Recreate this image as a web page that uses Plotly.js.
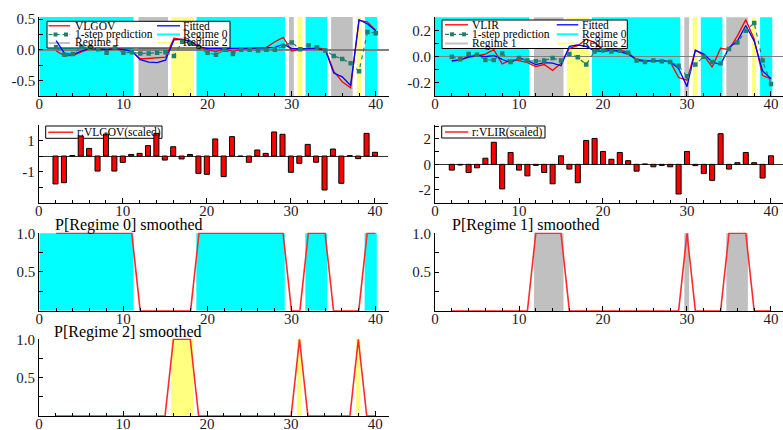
<!DOCTYPE html>
<html><head><meta charset="utf-8">
<script src="https://cdn.plot.ly/plotly-3.0.1.min.js"></script>
<style>html,body{margin:0;padding:0;background:#fff}#chart{width:783px;height:430px}</style>
</head><body><div id="chart"></div>
<script>
// ---------------- DATA ----------------
const t = [2,3,4,5,6,7,8,9,10,11,12,13,14,15,16,17,18,19,20,21,22,23,24,25,26,27,28,29,30,31,32,33,34,35,36,37,38,39,40];

const vlgov       = [-0.02,-0.10,-0.09,-0.03,0.02,0.02,0.00,0.03,0.00,-0.02, -0.15,-0.14,-0.12,-0.12,0.19,0.17,0.12, 0.04,0.00,-0.03,0.02,-0.03,0.01,0.02,0.02,0.04,0.13,0.20, -0.02,0.01,0.02,0.03,0.01,-0.35,-0.52,-0.62,0.48,0.45,0.31];
const vlgovFitted = [0.15,-0.06,-0.08,-0.02,0.02,0.01,0.00,0.02,0.00,-0.02, -0.16,-0.20,-0.21,-0.17,0.16,0.17,0.14, 0.05,0.02,0.02,0.02,0.02,0.02,0.02,0.02,0.03,0.04,0.09, 0.02,0.02,0.02,0.02,-0.01,-0.38,-0.44,-0.58,0.49,0.42,0.31];
const vlgovPred   = [0.04,-0.08,-0.07,0.05,0.03,0.01,-0.05,0.04,-0.05,-0.04, -0.06,-0.06,-0.05,-0.04,-0.10,0.13,0.10, 0.03,-0.05,-0.08,0.00,-0.07,0.00,0.00,-0.01,0.00,0.00,0.06, 0.12,0.01,0.07,0.04,-0.01,-0.10,-0.15,-0.22,-0.35,0.29,0.27];

const vlir        = [-0.035,-0.025,-0.005,0.01,0.02,0.055,-0.055,-0.025,-0.03,-0.045, -0.075,-0.06,-0.105,-0.05,0.065,0.085,0.135, 0.11,0.06,0.05,0.05,0.035,-0.03,-0.035,-0.03,-0.03,-0.04,-0.16, -0.18,0.05,0.01,-0.08,0.065,0.055,0.16,0.285,0.135,-0.145,-0.17];
const vlirFitted  = [-0.03,-0.025,0.0,0.01,0.0,0.01,-0.02,-0.045,-0.01,-0.03, -0.06,-0.045,-0.05,-0.07,0.08,0.09,0.08, 0.045,0.04,0.05,0.04,0.02,-0.02,-0.03,-0.03,-0.03,-0.04,-0.09, -0.23,0.05,0.02,-0.04,-0.06,0.07,0.12,0.24,0.12,-0.11,-0.17];
const vlirPred    = [0.0,-0.02,0.02,0.015,-0.025,-0.025,0.025,-0.04,-0.01,-0.03, -0.035,-0.03,-0.01,-0.03,0.02,-0.005,-0.06, 0.04,0.05,0.04,0.045,0.03,-0.03,-0.04,-0.03,-0.035,-0.04,-0.07, -0.15,-0.06,0.0,-0.04,-0.05,0.06,0.11,0.20,0.26,-0.03,-0.21];

const resVLGOV = [-1.8,-1.72,0.03,1.29,0.49,-0.97,1.42,-0.97,-0.41,0.1, 0.17,0.67,1.46,-0.26,0.6,-0.19,0.1, -1.12,-1.18,1.1,-1.33,1.25,-0.02,-0.4,0.39,0.17,1.55,1.4, -1.05,-0.47,0.75,-0.4,-2.19,0.45,-1.76,0.02,-0.17,1.46,0.24];
const resVLIR  = [-0.45,-0.05,-0.64,-0.27,0.48,1.73,-1.92,0.93,-0.45,-0.9, -0.08,-0.64,-1.52,0.67,-0.37,-1.44,1.87, 2.03,1.01,0.4,0.93,0.29,-0.53,0.03,-0.19,-0.08,-0.19,-2.32, 1.01,-0.1,-0.72,-1.25,2.4,-0.37,0.13,0.93,0.13,-1.07,0.67];

const pRegime0 = [1,1,1,1,1,1,1,1,1,1, 0,0,0,0,0,0,0, 1,1,1,1,1,1,1,1,1,1,1, 0,0,1,1,1,0,0,0,0,1,1];
const pRegime1 = [0,0,0,0,0,0,0,0,0,0, 1,1,1,1,0,0,0, 0,0,0,0,0,0,0,0,0,0,0, 1,0,0,0,0,1,1,1,0,0,0];
const pRegime2 = [0,0,0,0,0,0,0,0,0,0, 0,0,0,0,1,1,1, 0,0,0,0,0,0,0,0,0,0,0, 0,1,0,0,0,0,0,0,1,0,0];

// regime shading intervals (as drawn)
const regimeStart = [0, 11.78, 15.7, 18.68, 29.68, 30.68, 31.65, 34.68, 37.74, 38.7];
const regimeEnd   = [11.2, 15.3, 18.38, 29.2, 30.25, 31.26, 34.22, 37.25, 38.24, 40.15];
const regimeId    = [0, 1, 2, 0, 1, 2, 0, 1, 2, 0];
const regimeNames = ['Regime 0', 'Regime 1', 'Regime 2'];

const xTickVals = [0, 10, 20, 30, 40];

// ---------------- STYLE / LAYOUT ----------------
const W = 783, H = 430;
const FONT = 'Liberation Serif, Times New Roman, serif';
const TICKC = '#1a1a2e';
const regimeColors = ['#00FFFF', '#C0C0C0', '#FFFF80'];
const RED = '#FF0000', BLUE = '#0000FF', TEAL = '#1F8070', PRED = '#FF2A2A';

const panels = [
  {px:[39.3,389], xr:[0,41.56], py:[17,96],      yr:[-0.752,0.533], tv:[-0.5,-0.25,0,0.25,0.5], tt:['-0.5','','0.0','','0.5'], zl:'#808080', zw:1.5},
  {px:[435,783],  xr:[0,41.43], py:[17.3,96],    yr:[-0.302,0.303], tv:[-0.2,-0.1,0,0.1,0.2],   tt:['-0.2','','0.0','','0.2'], zl:'#808080', zw:1.5},
  {px:[38.7,388], xr:[0,41.55], py:[125,202.7],  yr:[-3.01,2.0],    tv:[-2,-1,0,1,2],           tt:['','-1','','1',''], zl:'#333333', zw:1},
  {px:[435,783],  xr:[0,41.43], py:[125,202.7],  yr:[-3.0,3.08],    tv:[-3,-2,-1,0,1,2,3],      tt:['','-2','','0','','2',''], zl:'#333333', zw:1},
  {px:[39.3,389], xr:[0,41.6],  py:[232.5,310.7],yr:[0,1.01],       tv:[0.25,0.5,0.75,1],       tt:['','0.5','','1.0'], zl:null},
  {px:[435,783],  xr:[0,41.43], py:[232.5,311],  yr:[0,1.01],       tv:[0.25,0.5,0.75,1],       tt:['','0.5','','1.0'], zl:null},
  {px:[39,389],   xr:[0,41.65], py:[338.5,416],  yr:[0,1.01],       tv:[0.25,0.5,0.75,1],       tt:['','0.5','','1.0'], zl:null}
];
const ax = i => (i === 0 ? '' : String(i + 1));

const layout = {
  width: W, height: H, margin: {l:0, r:0, t:0, b:0},
  paper_bgcolor: '#fff', plot_bgcolor: 'rgba(0,0,0,0)',
  showlegend: false, font: {family: FONT, color: TICKC},
  shapes: [], annotations: [], bargap: 0
};

panels.forEach((p, i) => {
  const s = ax(i);
  layout['xaxis' + s] = {
    domain: [p.px[0] / W, Math.min(1, p.px[1] / W)], range: p.xr, anchor: 'y' + s,
    showline: true, linecolor: '#000', linewidth: 1, mirror: false,
    ticks: 'inside', ticklen: 5, tickwidth: 1, tickcolor: '#000',
    tickmode: 'array', tickvals: xTickVals, ticktext: xTickVals.map(String),
    minor: {ticks: 'inside', ticklen: 3, tickcolor: '#000', tickmode: 'linear', tick0: 0, dtick: 2, showgrid: false},
    showgrid: false, zeroline: false, fixedrange: true, ticklabelstandoff: -6,
    tickfont: {family: FONT, size: 15, color: TICKC}
  };
  layout['yaxis' + s] = {
    domain: [1 - p.py[1] / H, 1 - p.py[0] / H], range: p.yr, anchor: 'x' + s,
    showline: true, linecolor: '#000', linewidth: 1,
    ticks: 'inside', ticklen: 4, tickwidth: 1, tickcolor: '#000',
    tickmode: 'array', tickvals: p.tv, ticktext: p.tt,
    showgrid: false, zeroline: !!p.zl, zerolinecolor: p.zl || '#000', zerolinewidth: p.zw || 1,
    fixedrange: true, tickfont: {family: FONT, size: 15, color: TICKC}
  };
});

// regime shading
function shade(i, onlyRegime) {
  const s = ax(i);
  regimeStart.forEach((x0, k) => {
    const r = regimeId[k];
    if (onlyRegime !== undefined && r !== onlyRegime) return;
    layout.shapes.push({
      type: 'rect', layer: 'below', xref: 'x' + s,
      yref: onlyRegime === undefined ? 'y' + s + ' domain' : 'y' + s,
      x0: x0, x1: regimeEnd[k], y0: 0, y1: 1,
      fillcolor: regimeColors[r], line: {width: 0}
    });
  });
}
shade(0); shade(1); shade(4, 0); shade(5, 1); shade(6, 2);

// ---------------- TRACES ----------------
const traces = [];
function series(i, x, y, name, color, extra) {
  const s = ax(i);
  traces.push(Object.assign({type: 'scatter', mode: 'lines', x: x, y: y, name: name,
    xaxis: 'x' + s, yaxis: 'y' + s, line: {color: color, width: 1.3}, hoverinfo: 'skip'}, extra || {}));
}
series(0, t, vlgov, 'VLGOV', RED);
series(0, t, vlgovFitted, 'Fitted', BLUE);
series(0, t, vlgovPred, '1-step prediction', TEAL, {mode: 'lines+markers', line: {color: TEAL, width: 1.2, dash: '4px,4px'}, marker: {symbol: 'square', size: 4.5, color: TEAL}});
series(1, t, vlir, 'VLIR', RED);
series(1, t, vlirFitted, 'Fitted', BLUE);
series(1, t, vlirPred, '1-step prediction', TEAL, {mode: 'lines+markers', line: {color: TEAL, width: 1.2, dash: '4px,4px'}, marker: {symbol: 'square', size: 4.5, color: TEAL}});

[[2, resVLGOV, 'r:VLGOV(scaled)'], [3, resVLIR, 'r:VLIR(scaled)']].forEach(([i, y, n]) => {
  const s = ax(i);
  traces.push({type: 'bar', x: t, y: y, name: n, xaxis: 'x' + s, yaxis: 'y' + s, width: 0.6,
    marker: {color: '#FF0000', line: {color: '#000', width: 1}}, hoverinfo: 'skip'});
});

series(4, t, pRegime0, 'P[Regime 0] smoothed', PRED, {line: {color: PRED, width: 1.6}, cliponaxis: false});
series(5, t, pRegime1, 'P[Regime 1] smoothed', PRED, {line: {color: PRED, width: 1.6}, cliponaxis: false});
series(6, t, pRegime2, 'P[Regime 2] smoothed', PRED, {line: {color: PRED, width: 1.6}, cliponaxis: false});

// ---------------- LEGENDS (drawn boxes, beneath the data lines) ----------------
function dx(p, px) { return (px - p.px[0]) / (p.px[1] - p.px[0]); }
function dy(p, py) { return (p.py[1] - py) / (p.py[1] - p.py[0]); }
function legendBox(i, x0, x1, y0, y1) {
  const p = panels[i], s = ax(i);
  layout.shapes.push({type: 'rect', layer: 'below', xref: 'x' + s + ' domain', yref: 'y' + s + ' domain',
    x0: dx(p, x0), x1: dx(p, x1), y0: dy(p, y1), y1: dy(p, y0), fillcolor: '#fff', line: {color: '#000', width: 1}});
}
function legendLine(i, x0, x1, py, color, width, dash) {
  const p = panels[i], s = ax(i);
  layout.shapes.push({type: 'line', layer: 'below', xref: 'x' + s + ' domain', yref: 'y' + s + ' domain',
    x0: dx(p, x0), x1: dx(p, x1), y0: dy(p, py), y1: dy(p, py), line: {color: color, width: width, dash: dash || 'solid'}});
}
function legendSquare(i, cx, cy, color) {
  const p = panels[i], s = ax(i);
  layout.shapes.push({type: 'rect', layer: 'below', xref: 'x' + s + ' domain', yref: 'y' + s + ' domain',
    x0: dx(p, cx - 2), x1: dx(p, cx + 2), y0: dy(p, cy + 2), y1: dy(p, cy - 2), fillcolor: color, line: {width: 0}});
}
function legendText(px, py, text, size) {
  layout.annotations.push({xref: 'paper', yref: 'paper', x: px / W, y: 1 - py / H, xanchor: 'left', yanchor: 'middle',
    text: text, showarrow: false, borderpad: 0, font: {family: FONT, size: size || 11.5, color: '#000'}});
}
function mainLegend(i, box, rows, c1, c2, firstName) {
  legendBox(i, box[0], box[1], box[2], box[3]);
  legendLine(i, c1[0], c1[1], rows[0], RED, 1.3); legendText(c1[2], rows[0], firstName);
  legendLine(i, c1[0], c1[1], rows[1], TEAL, 1.2, '4px,3px');
  legendSquare(i, c1[0] + 7, rows[1], TEAL); legendSquare(i, c1[1] - 4, rows[1], TEAL);
  legendText(c1[2], rows[1], '1-step prediction');
  legendLine(i, c1[0], c1[1], rows[2], regimeColors[1], 2); legendText(c1[2], rows[2], regimeNames[1]);
  legendLine(i, c2[0], c2[1], rows[0], BLUE, 1.3); legendText(c2[2], rows[0], 'Fitted');
  legendLine(i, c2[0], c2[1], rows[1], regimeColors[0], 2); legendText(c2[2], rows[1], regimeNames[0]);
  legendLine(i, c2[0], c2[1], rows[2], regimeColors[2], 2); legendText(c2[2], rows[2], regimeNames[2]);
}
mainLegend(0, [47, 230, 21.3, 48], [25.8, 34.5, 43], [48.5, 70, 74], [157, 180, 182], 'VLGOV');
mainLegend(1, [442, 627.3, 20, 48.5], [24.8, 34.3, 43.5], [445, 468, 471], [556.7, 578.3, 581], 'VLIR');

legendBox(2, 45.7, 162, 126, 138.3); legendLine(2, 48.3, 73.3, 132.2, RED, 1.3); legendText(75.5, 132.2, 'r:VLGOV(scaled)');
legendBox(3, 441.7, 545, 126, 138);  legendLine(3, 445, 468.3, 132, RED, 1.3);  legendText(471, 132, 'r:VLIR(scaled)');

// panel titles
legendText(53.5, 224.5, 'P[Regime 0] smoothed', 16);
legendText(450.5, 224.5, 'P[Regime 1] smoothed', 16);
legendText(53, 332, 'P[Regime 2] smoothed', 16);

Plotly.newPlot('chart', traces, layout, {staticPlot: true, displayModeBar: false});
</script>
</body></html>
